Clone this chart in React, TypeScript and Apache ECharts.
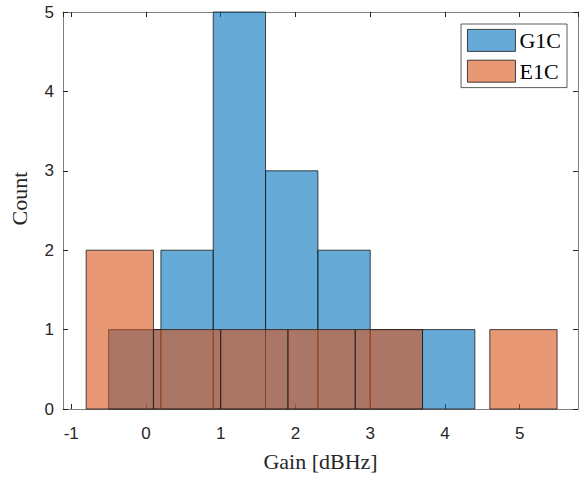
import React, { useEffect, useRef } from "react";
import * as echarts from "echarts";

// G1C histogram: bin edges and counts
const g1cEdges = [-0.5, 0.2, 0.9, 1.6, 2.3, 3.0, 3.7, 4.4];
const g1cCounts = [1, 2, 5, 3, 2, 1, 1];

// E1C histogram: bin edges and counts
const e1cEdges = [-0.8, 0.1, 1.0, 1.9, 2.8, 3.7, 4.6, 5.5];
const e1cCounts = [2, 1, 1, 1, 1, 0, 1];

const seriesNames = ["G1C", "E1C"];
const xLimits = [-1.11, 5.78];
const yLimits = [0, 5];

const blueFill = "rgba(0,114,189,0.6)";
const orangeFill = "rgba(217,83,25,0.6)";

function toBins(edges: number[], counts: number[]) {
  return counts.map((c, i) => [edges[i], edges[i + 1], c]);
}

const App: React.FC = () => {
  const ref = useRef<HTMLDivElement>(null);

  useEffect(() => {
    if (!ref.current) return;
    const chart = echarts.init(ref.current, null, { renderer: "svg" });

    const renderItem = (fill: string) => (params: any, api: any) => {
      const count = api.value(2);
      if (!count) return null;
      const s = api.coord([api.value(0), 0]);
      const e = api.coord([api.value(1), count]);
      return {
        type: "rect",
        shape: { x: s[0], y: e[1], width: e[0] - s[0], height: s[1] - e[1] },
        style: { fill, stroke: "#1a1a1a", lineWidth: 0.8 },
      };
    };

    const axisColor = "#808080";
    const labelColor = "#262626";
    const sans = "Liberation Sans";
    const serif = "Liberation Serif";

    chart.setOption({
      animation: false,
      grid: { left: 61, top: 12, right: 1, bottom: 69, containLabel: false },
      legend: {
        orient: "vertical",
        right: 12,
        top: 24,
        padding: [5, 6, 5, 6],
        itemGap: 8,
        itemWidth: 48,
        itemHeight: 22,
        icon: "rect",
        borderColor: "#333",
        borderWidth: 0.8,
        backgroundColor: "#fff",
        textStyle: { fontFamily: serif, fontSize: 22, color: "#000", padding: [0, 0, 0, -1] },
        data: [
          { name: seriesNames[0], itemStyle: { color: blueFill, borderColor: "#1a1a1a", borderWidth: 0.8 } },
          { name: seriesNames[1], itemStyle: { color: orangeFill, borderColor: "#1a1a1a", borderWidth: 0.8 } },
        ],
      },
      xAxis: [
        {
          type: "value",
          min: xLimits[0],
          max: xLimits[1],
          splitNumber: 7,
          name: "Gain [dBHz]",
          nameLocation: "middle",
          nameGap: 41,
          nameTextStyle: { fontFamily: serif, fontSize: 22, color: "#262626" },
          axisLine: { show: true, onZero: false, lineStyle: { color: axisColor, width: 1 } },
          axisTick: { show: true, inside: true, length: 5, lineStyle: { color: labelColor } },
          axisLabel: {
            showMinLabel: false,
            showMaxLabel: false,
            fontFamily: sans,
            fontSize: 17,
            color: labelColor,
            margin: 16,
          },
          splitLine: { show: false },
        },
        {
          type: "value",
          position: "top",
          min: xLimits[0],
          max: xLimits[1],
          splitNumber: 7,
          axisLine: { show: true, onZero: false, lineStyle: { color: axisColor, width: 1 } },
          axisTick: { show: true, inside: true, length: 5, lineStyle: { color: labelColor } },
          axisLabel: { show: false },
          splitLine: { show: false },
        },
      ],
      yAxis: [
        {
          type: "value",
          min: yLimits[0],
          max: yLimits[1],
          interval: 1,
          name: "Count",
          nameLocation: "middle",
          nameGap: 33,
          nameTextStyle: { fontFamily: serif, fontSize: 22, color: "#262626", padding: [0, 0, 0, 24] },
          axisLine: { show: true, onZero: false, lineStyle: { color: axisColor, width: 1 } },
          axisTick: { show: true, inside: true, length: 5, lineStyle: { color: labelColor } },
          axisLabel: { fontFamily: sans, fontSize: 17, color: labelColor, margin: 9 },
          splitLine: { show: false },
        },
        {
          type: "value",
          position: "right",
          min: yLimits[0],
          max: yLimits[1],
          interval: 1,
          axisLine: { show: true, onZero: false, lineStyle: { color: axisColor, width: 1 } },
          axisTick: { show: true, inside: true, length: 5, lineStyle: { color: labelColor } },
          axisLabel: { show: false },
          splitLine: { show: false },
        },
      ],
      series: [
        {
          name: seriesNames[0],
          type: "custom",
          renderItem: renderItem(blueFill),
          itemStyle: { color: blueFill },
          encode: { x: [0, 1], y: 2 },
          data: toBins(g1cEdges, g1cCounts),
          z: 2,
        },
        {
          name: seriesNames[1],
          type: "custom",
          renderItem: renderItem(orangeFill),
          itemStyle: { color: orangeFill },
          encode: { x: [0, 1], y: 2 },
          data: toBins(e1cEdges, e1cCounts),
          z: 3,
        },
      ],
    });

    return () => chart.dispose();
  }, []);

  return <div ref={ref} style={{ width: 579, height: 478, position: "absolute", left: 0, top: 0 }} />;
};

export default App;
